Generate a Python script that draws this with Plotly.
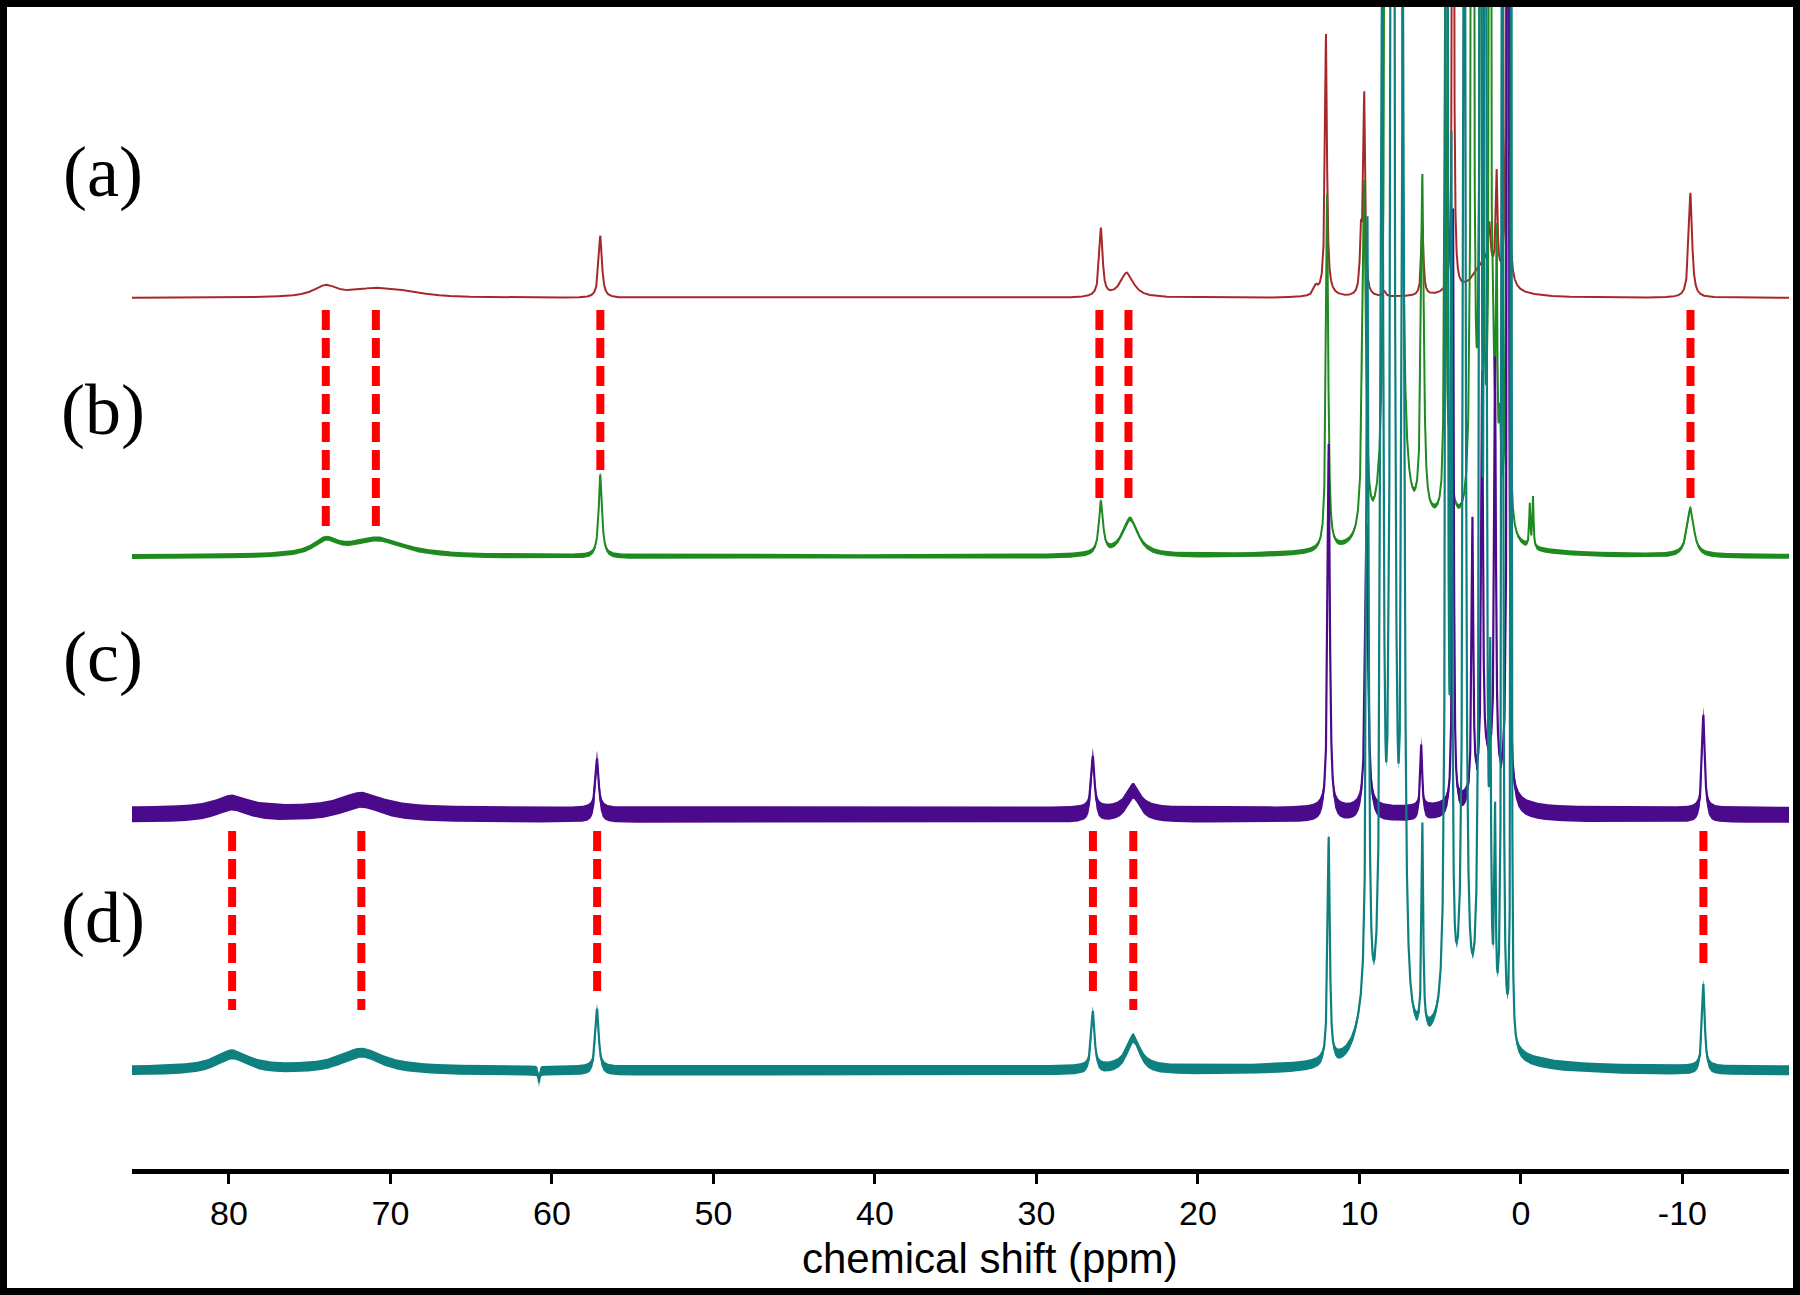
import numpy as np
import plotly.graph_objects as go

# ---- data ----
# each spectrum is a list of peaks: position (ppm), height (px above its baseline), half width (ppm)
a_ppm = [74.0, 71.0, 69.0, 57.0, 26.0, 24.4, 12.7, 12.07, 12.1, 9.9, 9.7, 8.45, 6.1, 4.2, 2.2, 1.95, 1.5, 0.84, -10.5]
a_height = [11, 8, 4, 62, 68, 25, 8, 255, 8, 55, 198, 5, 70, 1200, 35, 40, 100, 1500, 105]
a_width = [0.9, 1.6, 1.5, 0.12, 0.12, 0.5, 0.15, 0.07, 0.4, 0.08, 0.07, 0.1, 0.08, 0.04, 0.9, 0.08, 0.06, 0.04, 0.12]

b_ppm = [74.0, 70.8, 57.0, 26.0, 24.2, 12.0, 9.7, 8.32, 7.9, 7.5, 6.1, 5.0, 4.68, 4.4, 3.0, 2.45, 1.91,
         1.7, 1.5, 1.3, 0.82, -0.55, -0.75, -10.5]
b_height = [14, 17, 82, 52, 37, 356, 355, 2000, 2000, 1500, 340, 30, 538, 60, 2000, 2000, 1500,
            100, 255, 90, 3000, 42, 50, 48]
b_width = [0.9, 2.0, 0.12, 0.15, 0.6, 0.08, 0.12, 0.08, 0.08, 0.1, 0.1, 2.5, 0.06, 0.15, 0.06, 0.06, 0.05,
           0.08, 0.05, 0.08, 0.035, 0.04, 0.04, 0.25]

c_ppm = [79.8, 71.8, 57.2, 26.5, 24.0, 11.9, 9.55, 6.17, 4.2, 3.0, 2.4, 2.0, 1.6, 0.8, -11.3]
c_height = [12, 15, 56, 58, 24, 370, 290, 68, 600, 275, 400, 50, 412, 3000, 100]
c_width = [1.2, 1.6, 0.12, 0.12, 0.5, 0.08, 0.1, 0.07, 0.05, 0.06, 0.06, 0.7, 0.06, 0.035, 0.1]

d_ppm = [79.8, 71.8, 60.8, 57.2, 26.5, 24.0, 11.9, 9.8, 9.5, 8.6, 7.95, 7.3, 6.1, 4.6, 4.3, 4.0, 3.5,
         2.5, 2.2, 1.9, 1.6, 1.15, 0.6, -11.3]
d_height = [16, 18, -12, 62, 58, 32, 225, 30, 800, 1000, 2500, 1000, 206, 2000, 800, 40, 1500,
            2000, 2000, 300, 194, 2000, 2000, 86]
d_width = [1.2, 1.6, 0.04, 0.12, 0.12, 0.5, 0.08, 0.6, 0.08, 0.1, 0.1, 0.1, 0.06, 0.06, 0.05, 2.0, 0.08,
           0.06, 0.06, 0.05, 0.05, 0.04, 0.025, 0.1]

labels = ["(a)", "(b)", "(c)", "(d)"]
colors = ["#a8282a", "#1f8a1f", "#4b0a8c", "#0e8080"]

# red guide lines between spectra (ppm)
guide_ab = [74.0, 70.9, 57.0, 26.1, 24.3, -10.5]
guide_cd = [79.8, 71.8, 57.2, 26.5, 24.0, -11.3]

tick_vals = [80, 70, 60, 50, 40, 30, 20, 10, 0, -10]

# ---- layout geometry (pixels) ----
W, H = 1800, 1295
ML, MR, MT, MB = 132, 11, 6, 126
PW, PH = W - ML - MR, H - MT - MB
AXIS_Y = H - MB


def px(x):
    return (x - ML) / PW


def py(y):
    return (AXIS_Y - y) / PH


def spectrum(x, pos, hgt, wid):
    y = np.zeros_like(x)
    for p, h, w in zip(pos, hgt, wid):
        y += h / (1 + ((x - p) / w) ** 2)
    return y


x = np.arange(-16.8, 86.2, 0.005)
peaks = [(a_ppm, a_height, a_width), (b_ppm, b_height, b_width),
         (c_ppm, c_height, c_width), (d_ppm, d_height, d_width)]
baselines = [AXIS_Y - 298, AXIS_Y - 557, AXIS_Y - 815, AXIS_Y - 1071]
noise = [0, 2.5, 8, 5]
widths = [2, 2, 2.2, 2.2]

fig = go.Figure()
for (pos, hgt, wid), base, amp, col, lw in zip(peaks, baselines, noise, colors, widths):
    y = base + spectrum(x, pos, hgt, wid)
    if amp:
        fig.add_trace(go.Scatter(
            x=np.concatenate([x, x[::-1]]),
            y=np.concatenate([y + amp, (y - amp)[::-1]]),
            fill="toself", fillcolor=col, line=dict(width=0),
            mode="lines", hoverinfo="skip", showlegend=False))
    fig.add_trace(go.Scatter(x=x, y=y, mode="lines", line=dict(color=col, width=lw),
                             showlegend=False))

# dashed guides: top and bottom pixel rows for each line
ab_top = AXIS_Y - 310
ab_bottom = [AXIS_Y - 528, AXIS_Y - 528, AXIS_Y - 471, AXIS_Y - 502, AXIS_Y - 502, AXIS_Y - 502]
cd_top = AXIS_Y - 831
cd_bottom = [AXIS_Y - 1010, AXIS_Y - 1010, AXIS_Y - 994, AXIS_Y - 994, AXIS_Y - 1010, AXIS_Y - 967]
for g, b in zip(guide_ab, ab_bottom):
    fig.add_trace(go.Scatter(x=[g, g], y=[ab_top, b], mode="lines", showlegend=False,
                             line=dict(color="#ff0000", width=8, dash="20px,8px")))
for g, b in zip(guide_cd, cd_bottom):
    fig.add_trace(go.Scatter(x=[g, g], y=[cd_top, b], mode="lines", showlegend=False,
                             line=dict(color="#ff0000", width=8, dash="20px,8px")))

label_y = [172, 410, 657, 918]
for t, ly in zip(labels, label_y):
    fig.add_annotation(x=px(103), y=py(ly), xref="paper", yref="paper", text=t,
                       showarrow=False, xanchor="center", yanchor="middle",
                       font=dict(family="Liberation Serif", size=72, color="black"))

fig.add_annotation(x=px(990), y=py(1258), xref="paper", yref="paper",
                   text="chemical shift (ppm)", showarrow=False,
                   xanchor="center", yanchor="middle",
                   font=dict(family="Liberation Sans", size=42, color="black"))

# outer black frame
fig.add_shape(type="rect", xref="paper", yref="paper",
              x0=px(3.5), x1=px(W - 3.5), y0=py(H - 3.5), y1=py(3.5),
              line=dict(color="black", width=7))

fig.update_layout(
    width=W, height=H,
    margin=dict(l=ML, r=MR, t=MT, b=MB),
    paper_bgcolor="white", plot_bgcolor="white",
    xaxis=dict(range=[86.0, -16.6], tickvals=tick_vals, ticktext=[str(v) for v in tick_vals],
               showline=True, linecolor="black", linewidth=5, ticks="outside", ticklen=10,
               tickwidth=3, tickcolor="black", showgrid=False, zeroline=False,
               ticklabelstandoff=0,
               tickfont=dict(family="Liberation Sans", size=34, color="black")),
    yaxis=dict(range=[0, PH], visible=False, showgrid=False, zeroline=False),
)

fig.write_html("out.html", config={"displayModeBar": False},
               post_script="document.body.style.margin='0';")
